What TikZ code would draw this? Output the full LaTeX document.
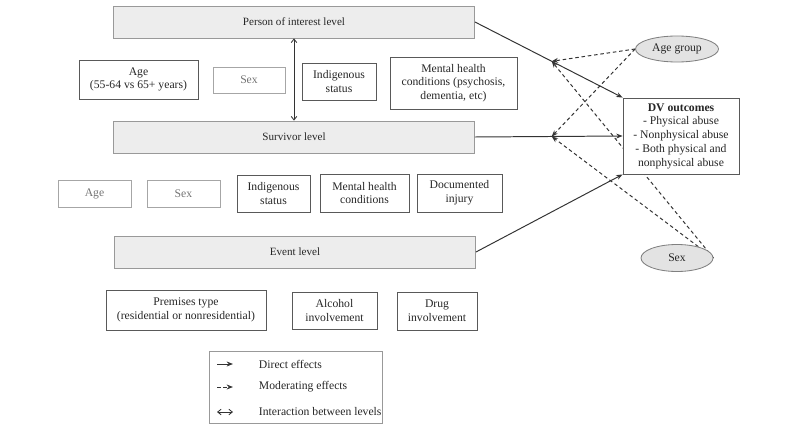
\documentclass[tikz,border=0pt]{standalone}
\usepackage{fontspec}
\setmainfont{Liberation Serif}
\usetikzlibrary{arrows.meta, calc, positioning, shapes.geometric, backgrounds}

\begin{document}
\begin{tikzpicture}[x=0.025cm, y=-0.025cm, >=Stealth,
    font=\fontsize{8.3}{9.8}\selectfont, text=black!85,
    level/.style={draw=black!40, fill=black!7, line width=0.6pt, minimum width=90.25mm, minimum height=8mm, inner sep=0pt, font=\fontsize{7.9}{9.5}\selectfont},
    var/.style={draw=black!65, line width=0.6pt, align=center, inner sep=0pt},
    faint/.style={draw=black!35, line width=0.6pt, text=black!55, align=center, inner sep=0pt},
    group/.style={ellipse, draw=black!50, fill=black!11, line width=0.6pt, inner sep=0pt},
    direct/.style={->, black!80, line width=0.7pt, >={Stealth[length=4.5pt, width=3.5pt]}},
    moder/.style={->, black!80, dashed, line width=0.7pt, dash pattern=on 2.5pt off 2pt, >={Stealth[length=4.5pt, width=3.5pt]}},
    between/.style={<->, black!80, line width=0.6pt, >={Straight Barb[length=2.5pt, width=4pt]}}]
    \useasboundingbox (0,0) rectangle (800,427);

    % levels
    \node[level] (poi) at (294,22) {Person of interest level};
    \node[level] (surv) at (294,137) {Survivor level};
    \node[level] (event) at (295,252) {Event level};

    % person of interest variables
    \node[var, minimum width=29.75mm, minimum height=9.75mm] (age1) at (138.5,79.5) {Age\\(55-64 vs 65+ years)};
    \node[faint, minimum width=18mm, minimum height=6.5mm] (sex1) at (249,80) {Sex};
    \node[var, minimum width=18.5mm, minimum height=9.25mm] (indig1) at (339,81.5) {Indigenous\\status};
    \node[var, minimum width=31.75mm, minimum height=13mm] (mental1) at (453.5,83) {Mental health\\conditions (psychosis,\\dementia, etc)};

    % survivor variables
    \node[faint, minimum width=18.25mm, minimum height=6.75mm] (age2) at (94.5,193.5) {Age};
    \node[faint, minimum width=18.25mm, minimum height=6.75mm] (sex2) at (183.5,193.5) {Sex};
    \node[var, minimum width=18.25mm, minimum height=9.25mm] (indig2) at (273.5,193.5) {Indigenous\\status};
    \node[var, minimum width=22.25mm, minimum height=9.5mm] (mental2) at (364.5,193) {Mental health\\conditions};
    \node[var, minimum width=21.25mm, minimum height=9.5mm] (injury) at (459.5,193) {Documented\\injury};

    % event variables
    \node[var, minimum width=40mm, minimum height=10mm] (premises) at (186,310) {Premises type\\(residential or nonresidential)};
    \node[var, minimum width=21.25mm, minimum height=9.25mm] (alcohol) at (334.5,310.5) {Alcohol\\involvement};
    \node[var, minimum width=20mm, minimum height=9.5mm] (drug) at (437,311) {Drug\\involvement};

    % outcome and moderators
    \node[var, fill=white, minimum width=29mm, minimum height=19mm] (dv) at (681,136) {\textbf{DV outcomes}\\- Physical abuse\\- Nonphysical abuse\\- Both physical and\\nonphysical abuse};
    \node[group, minimum width=20.75mm, minimum height=6.5mm] (agegrp) at (677,49) {Age group};
    \node[group, minimum width=18mm, minimum height=6.75mm] (sexgrp) at (677,258) {Sex};

    \draw[between] (poi.south) -- (surv.north);

    \draw[direct] (poi.east) -- (dv.north west);
    \draw[direct] (surv.east) -- (dv.west);
    \draw[direct] (event.east) -- (dv.south west);

    \coordinate (m1) at ($(poi.east)!0.52!(dv.north west)$);
    \coordinate (m2) at ($(surv.east)!0.52!(dv.west)$);

    \begin{scope}[on background layer]
        \draw[moder] (agegrp.west) -- (m1);
        \draw[moder] (agegrp.west) -- (m2);
        \draw[moder] (sexgrp.east) -- (m1);
        \draw[moder] (sexgrp.east) -- (m2);
    \end{scope}

    % legend
    \node[draw=black!40, line width=0.6pt, minimum width=43.25mm, minimum height=18mm] (legend) at (295.5,387) {};
    \coordinate (d1) at (217,364); \coordinate (d2) at (233,364);
    \coordinate (e1) at (217,387); \coordinate (e2) at (233,387);
    \coordinate (f1) at (217,412); \coordinate (f2) at (233,412);
    \draw[direct] (d1) -- (d2);
    \draw[moder] (e1) -- (e2);
    \draw[between] (f1) -- (f2);
    \node[anchor=west] (t1) at (254,364) {Direct effects};
    \node[anchor=west] (t2) at (254,387) {Moderating effects};
    \node[anchor=west] (t3) at (254,412) {Interaction between levels};
\end{tikzpicture}
\end{document}
